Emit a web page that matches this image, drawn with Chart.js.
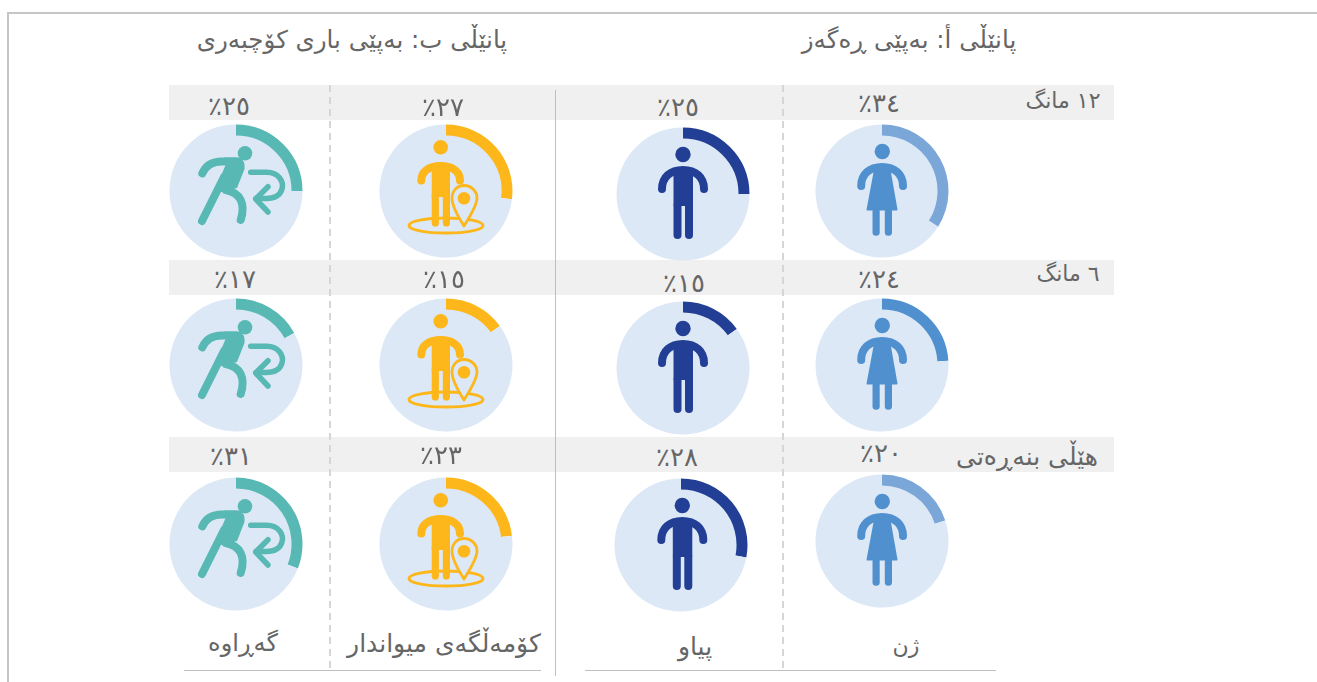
<!DOCTYPE html>
<html><head><meta charset="utf-8"><script src="https://cdn.jsdelivr.net/npm/chart.js@4"></script>
<style>
html,body{margin:0;padding:0;background:#fff;width:1317px;height:682px;overflow:hidden}
#stage{position:relative;width:1317px;height:682px;font-family:"DejaVu Sans",sans-serif;color:#666}
.abs{position:absolute}
.t{position:absolute;white-space:nowrap;transform:translate(-50%,-50%);line-height:1}
canvas{position:absolute}
</style></head><body><div id="stage"></div>
<script>
const rowLabels=["١٢ مانگ","٦ مانگ","هێڵی بنەڕەتی"];
const panelTitles=["پانێڵی أ: بەپێی ڕەگەز","پانێڵی ب: بەپێی باری کۆچبەری"];
const categories=["ژن","پیاو","کۆمەڵگەی میواندار","گەڕاوە"];
const women=[34,24,20];
const men=[25,15,28];
const hostCommunity=[27,15,23];
const returnees=[25,17,31];
const seriesValues=[women,men,hostCommunity,returnees];
const arabicDigits="٠١٢٣٤٥٦٧٨٩";
const pct=v=>"٪"+String(v).replace(/\d/g,d=>arabicDigits[d]);
const stage=document.getElementById('stage');
const disc="#dce8f6";
const colors=[["#7ba6d8","#5090cf","#7ba6d8"],["#223f95","#223f95","#223f95"],["#fdb71a","#fdb71a","#fdb71a"],["#58b8b3","#58b8b3","#58b8b3"]];
const iconColors=["#5090cf","#223f95","#fdb71a","#58b8b3"];
const centers=[[[881.5,190.5],[881.5,365],[881.5,541]],[[682.5,194],[682.5,368],[681.2,544.5]],[[446,190.5],[446,365],[446,544]],[[235.5,190.5],[235.5,365],[235.5,544]]];
const iconShift=[[0,0,0],[0,0,1.3],[0,0,0],[0,0,0]];
const labelPos=[[[879,103],[879,279],[881,453]],[[678,107],[684,283],[677,457]],[[443,107],[444,279],[441,455]],[[229,106],[235,279],[231,456]]];
const rowLabelPos=[[1063,101],[1068,274],[1027,456]];
const rowLabelSize=[22,22,25];
const catPos=[[906,646],[695,646],[444,643],[243,643]];
const catSize=[22,25,25,24];
const titlePos=[[909,40],[352,40]];
function div(x,y,w,h,css){const d=document.createElement('div');d.className='abs';d.style.cssText=`left:${x}px;top:${y}px;width:${w}px;height:${h}px;${css}`;stage.appendChild(d);}
function text(s,x,y,size,dir,ls){const d=document.createElement('div');d.className='t';d.textContent=s;d.dir=dir||'rtl';d.style.left=x+'px';d.style.top=y+'px';d.style.fontSize=size+'px';if(ls)d.style.letterSpacing=ls+'px';stage.appendChild(d);}
// frame
div(7,12,1310,2,'background:#c6c6c6');div(7,12,2,670,'background:#c6c6c6');
// bands
[85,260,437].forEach(y=>div(169,y,945,35,'background:#f0f0f0'));
// separators
div(555,90,1,586,'background:#bfbfbf');
[329,782].forEach(x=>div(x,85,2,585,'background:repeating-linear-gradient(to bottom,#d6d6d6 0 7px,transparent 7px 12px)'));
div(184,670,357,1,'background:#bfbfbf');div(585,670,411,1,'background:#bfbfbf');
panelTitles.forEach((s,i)=>text(s,titlePos[i][0],titlePos[i][1],24.5));
rowLabels.forEach((s,i)=>text(s,rowLabelPos[i][0],rowLabelPos[i][1],rowLabelSize[i]));
categories.forEach((s,i)=>text(s,catPos[i][0],catPos[i][1],catSize[i]));
function disk(c,x,y,r){c.beginPath();c.arc(x,y,r,0,Math.PI*2);c.fill();}
function arms(c,x0,x1,yEnd,yTop,w){const m=(x0+x1)/2,h=(x1-x0)/2,k=yEnd-yTop;c.lineWidth=w;c.lineCap='round';c.beginPath();c.moveTo(x0,yEnd);c.bezierCurveTo(x0,yEnd-k*0.62,m-h*0.6,yTop,m,yTop);c.bezierCurveTo(m+h*0.6,yTop,x1,yEnd-k*0.62,x1,yEnd);c.stroke();}
function rr(c,x,y,w,h,r){c.beginPath();c.roundRect(x,y,w,h,r);c.fill();}
const icons=[
 function(c){disk(c,0.3,-39.5,7.7);arms(c,-20.8,21,-5,-24,8);
  c.beginPath();c.moveTo(-7.5,-24);c.lineTo(8,-24);c.lineTo(15.5,18.5);c.quadraticCurveTo(15.5,19.5,14.5,19.5);c.lineTo(-14.5,19.5);c.quadraticCurveTo(-15.5,19.5,-15.5,18.5);c.closePath();c.fill();
  rr(c,-9.5,17,7.2,27.7,3.5);rr(c,2.8,17,7.2,27.7,3.5);},
 function(c){disk(c,0,-39.5,7.7);arms(c,-21,21,-5,-24,8);
  c.fillRect(-9.5,-25,19.5,37);rr(c,-9.5,8,8,37,4);rr(c,2,8,8,37,4);},
 function(c){disk(c,-5.3,-43.7,7.3);arms(c,-24.7,14,-10.5,-25,8);
  c.fillRect(-14.3,-26,18.3,32);rr(c,-14.3,0,7.2,35.5,3.6);rr(c,-3.2,0,7.2,35.5,3.6);
  c.lineWidth=3;c.beginPath();c.ellipse(0,34.5,37,7.6,0,0,Math.PI*2);c.stroke();
  const pin=new Path2D("M18 35 C11 24 6 14 6 7 C6 0 11 -5.5 18 -5.5 C25 -5.5 31 0 31 7 C31 14 25 24 18 35 Z");
  c.fillStyle=disc;c.fill(pin);c.fillStyle=iconColors[2];c.lineWidth=2.8;c.lineJoin='round';c.stroke(pin);disk(c,18,7.3,6.3);},
 function(c){disk(c,9,-37.7,7.3);c.lineCap='round';c.lineJoin='round';c.lineWidth=8;
  c.beginPath();c.moveTo(-33.7,-17.7);c.bezierCurveTo(-30,-26,-24,-29.5,-14,-29.5);c.lineTo(0,-29.5);c.stroke();
  c.beginPath();c.moveTo(-12,-14);c.lineTo(-34,30);c.stroke();
  c.beginPath();c.moveTo(-12,-33.5);c.lineTo(3,-33.5);c.quadraticCurveTo(9.5,-31,8.5,-22);c.lineTo(1,-3);c.lineTo(-14,1);c.lineTo(-21,-1);c.lineTo(-10,-27);c.closePath();c.fill();
  c.beginPath();c.moveTo(-10,-1);c.bezierCurveTo(4,2,10,12,4.7,29);c.stroke();
  c.lineWidth=5.5;c.beginPath();c.moveTo(14.7,-18.7);c.lineTo(30.7,-18.7);c.bezierCurveTo(43,-18.7,48,-9,46,-2);c.bezierCurveTo(44,5,38,7.5,30,7.5);c.lineTo(20,7.5);c.stroke();
  c.beginPath();c.moveTo(32,-4.3);c.lineTo(19.7,8);c.lineTo(32,21);c.stroke();}
];
const figure={id:'figure',beforeDatasetsDraw(ch,a,o){const c=ch.ctx,m=ch.getDatasetMeta(0).data[0];c.save();c.fillStyle=disc;disk(c,m.x,m.y,m.innerRadius+1);c.restore();},
 afterDatasetsDraw(ch,a,o){const c=ch.ctx,m=ch.getDatasetMeta(0).data[0];c.save();c.translate(m.x+o.dx,m.y);c.fillStyle=o.color;c.strokeStyle=o.color;icons[o.icon](c);c.restore();}};
const S=140;
seriesValues.forEach((vals,s)=>vals.forEach((v,r)=>{
 const [cx,cy]=centers[s][r];
 const cv=document.createElement('canvas');cv.width=S;cv.height=S;cv.style.cssText=`left:${cx-S/2}px;top:${cy-S/2}px;width:${S}px;height:${S}px`;stage.appendChild(cv);
 new Chart(cv,{type:'doughnut',plugins:[figure],data:{labels:[categories[s],''],datasets:[{data:[v,100-v],backgroundColor:[colors[s][r],disc],borderWidth:0}]},
  options:{responsive:false,animation:false,cutout:'83.5%',radius:66.5,layout:{padding:0},events:[],plugins:{legend:{display:false},tooltip:{enabled:false},figure:{icon:s,color:iconColors[s],dx:iconShift[s][r]}}}});
 text(pct(v),labelPos[s][r][0],labelPos[s][r][1],26,'ltr',4);
}));
</script></body></html>
